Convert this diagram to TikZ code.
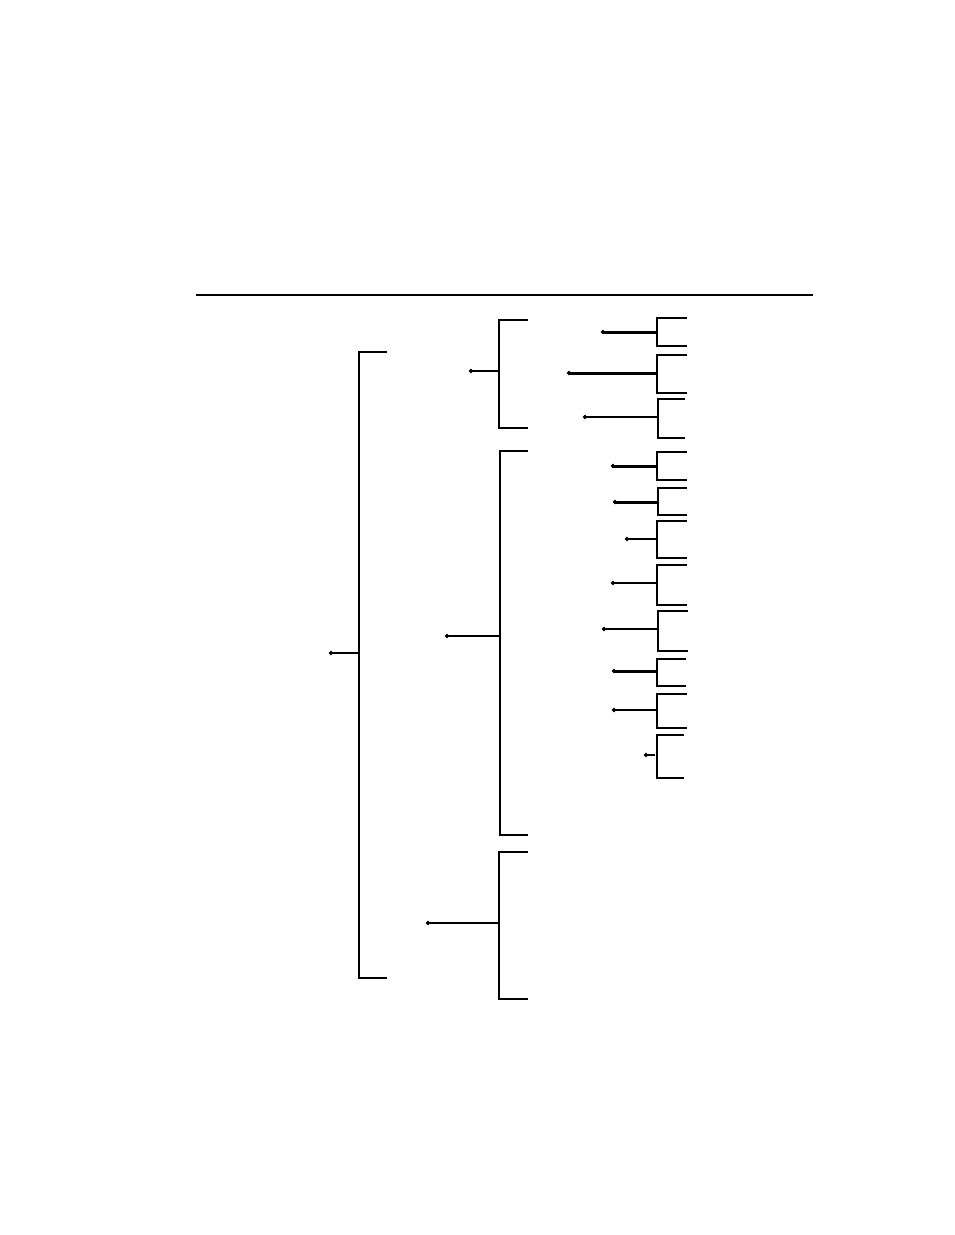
\documentclass[tikz,border=0pt]{standalone}
\usetikzlibrary{shapes.geometric}
\begin{document}
\begin{tikzpicture}[x=1pt,y=-1pt,
  rulestyle/.style={line width=2.4pt},
  bracket/.style={line width=1.2pt, line cap=rect},
  stem/.style={line width=1.2pt},
  thickstem/.style={line width=3pt},
  dot/.style={diamond, fill=black, inner sep=0pt, minimum size=5pt}]
\useasboundingbox (0,0) rectangle (954,1235);
% top rule
\coordinate (r1) at (196,295); \coordinate (r2) at (813,295);
\draw[rulestyle] (r1) -- (r2);

% level 1
\draw[bracket] (386,352) -- (359,352) -- (359,978) -- (386,978);
\node[dot] (d0) at (331,653) {}; \coordinate (j0) at (359,653);
\draw[stem] (d0.center) -- (j0);

% level 2
\draw[bracket] (527,320) -- (499,320) -- (499,428) -- (527,428);
\node[dot] (d1) at (471,371) {}; \coordinate (j1) at (499,371);
\draw[stem] (d1.center) -- (j1);

\draw[bracket] (527,451) -- (500,451) -- (500,835) -- (527,835);
\node[dot] (d2) at (447,636) {}; \coordinate (j2) at (500,636);
\draw[stem] (d2.center) -- (j2);

\draw[bracket] (527,852) -- (499,852) -- (499,999) -- (527,999);
\node[dot] (d3) at (428,923) {}; \coordinate (j3) at (499,923);
\draw[stem] (d3.center) -- (j3);

% level 3
\draw[bracket] (686,318) -- (657,318) -- (657,346) -- (686,346);
\node[dot] (a) at (603,332) {}; \coordinate (ja) at (657,332);
\draw[thickstem] (a.center) -- (ja);

\draw[bracket] (686,355) -- (657,355) -- (657,393) -- (686,393);
\node[dot] (b) at (569,373) {}; \coordinate (jb) at (657,373);
\draw[thickstem] (b.center) -- (jb);

\draw[bracket] (684,399) -- (658,399) -- (658,438) -- (684,438);
\node[dot] (c) at (585,417) {}; \coordinate (jc) at (658,417);
\draw[stem] (c.center) -- (jc);

\draw[bracket] (686,452) -- (657,452) -- (657,480) -- (686,480);
\node[dot] (d) at (613,466) {}; \coordinate (jd) at (657,466);
\draw[thickstem] (d.center) -- (jd);

\draw[bracket] (686,488) -- (658,488) -- (658,515) -- (686,515);
\node[dot] (e) at (615,502) {}; \coordinate (je) at (658,502);
\draw[thickstem] (e.center) -- (je);

\draw[bracket] (686,521) -- (657,521) -- (657,558) -- (686,558);
\node[dot] (f) at (627,539) {}; \coordinate (jf) at (657,539);
\draw[stem] (f.center) -- (jf);

\draw[bracket] (686,565) -- (657,565) -- (657,605) -- (686,605);
\node[dot] (g) at (613,583) {}; \coordinate (jg) at (657,583);
\draw[stem] (g.center) -- (jg);

\draw[bracket] (687,611) -- (658,611) -- (658,651) -- (687,651);
\node[dot] (h) at (604,629) {}; \coordinate (jh) at (658,629);
\draw[stem] (h.center) -- (jh);

\draw[bracket] (685,659) -- (657,659) -- (657,686) -- (685,686);
\node[dot] (i) at (614,671) {}; \coordinate (ji) at (657,671);
\draw[thickstem] (i.center) -- (ji);

\draw[bracket] (686,694) -- (657,694) -- (657,728) -- (686,728);
\node[dot] (j) at (614,710) {}; \coordinate (jj) at (657,710);
\draw[stem] (j.center) -- (jj);

\draw[bracket] (683,735) -- (657,735) -- (657,778) -- (683,778);
\node[dot] (k) at (646,755) {}; \coordinate (jk) at (655,755);
\draw[stem] (k.center) -- (jk);
\end{tikzpicture}
\end{document}
